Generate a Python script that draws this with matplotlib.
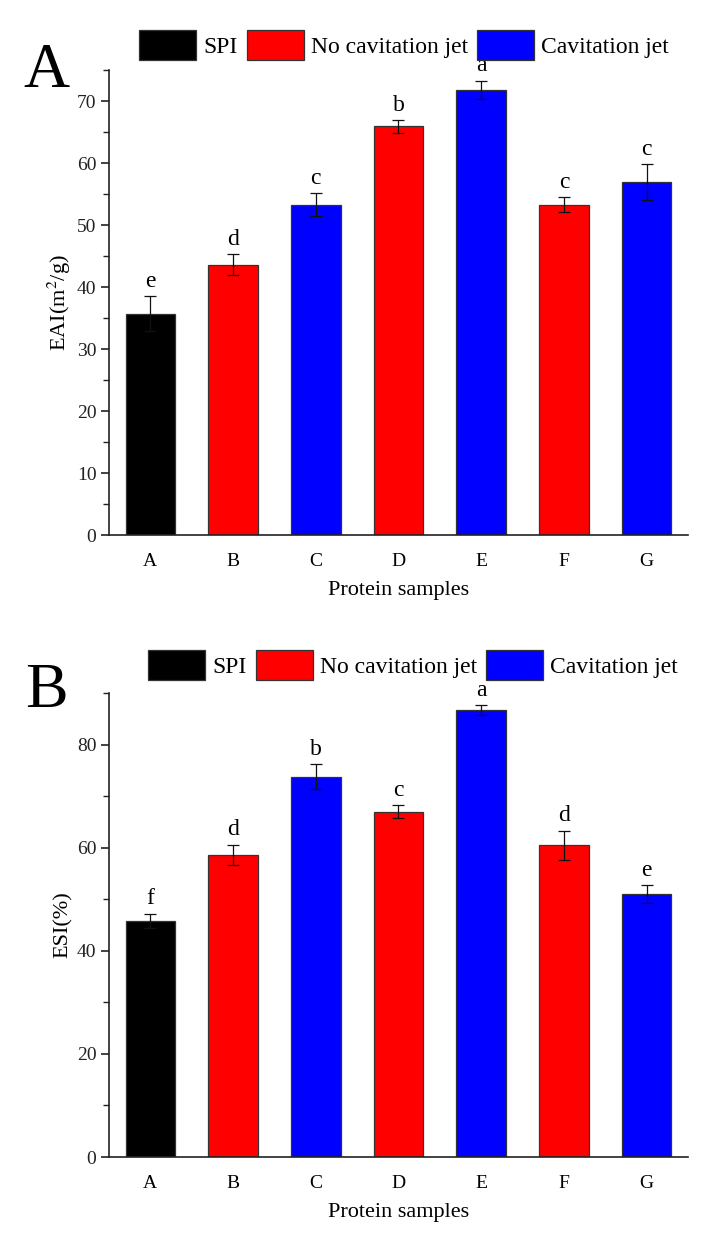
import matplotlib
matplotlib.use("Agg")
import matplotlib.pyplot as plt
from matplotlib.patches import Patch
from matplotlib.ticker import MultipleLocator

plt.rcParams['font.family'] = ['Liberation Serif', 'DejaVu Serif']
plt.rcParams['mathtext.fontset'] = 'stix'

samples = ['A', 'B', 'C', 'D', 'E', 'F', 'G']
groups = ['SPI', 'No cavitation jet', 'Cavitation jet', 'No cavitation jet',
          'Cavitation jet', 'No cavitation jet', 'Cavitation jet']
group_names = ['SPI', 'No cavitation jet', 'Cavitation jet']
group_colors = {'SPI': '#000000', 'No cavitation jet': '#ff0000', 'Cavitation jet': '#0000ff'}

eai = [35.7, 43.6, 53.3, 65.9, 71.8, 53.3, 56.9]
eai_err = [2.8, 1.7, 1.8, 1.0, 1.5, 1.25, 2.9]
eai_letters = ['e', 'd', 'c', 'b', 'a', 'c', 'c']

esi = [45.8, 58.6, 73.8, 67.0, 86.7, 60.5, 51.0]
esi_err = [1.4, 2.0, 2.4, 1.25, 0.9, 2.8, 1.7]
esi_letters = ['f', 'd', 'b', 'c', 'a', 'd', 'e']

W, H = 721, 1247
fig = plt.figure(figsize=(W / 100, H / 100), dpi=100)

def px_axes(left, top, right, bottom):
    return fig.add_axes([left / W, 1 - bottom / H, (right - left) / W, (bottom - top) / H])

def draw(ax, vals, errs, letters, ylabel, ymax, major, minor, panel, leg_y, leg_x, panel_xy):
    x = list(range(len(samples)))
    colors = [group_colors[g] for g in groups]
    ax.bar(x, vals, width=0.6, color=colors, edgecolor='#333333', linewidth=0.9, zorder=2)
    ax.errorbar(x, vals, yerr=errs, fmt='none', ecolor='#111111', elinewidth=0.9,
                capsize=4.5, capthick=0.9, zorder=3)
    for xi, v, e, l in zip(x, vals, errs, letters):
        ax.annotate(l, (xi, v + e), xytext=(0, 3), textcoords='offset points',
                    ha='center', va='bottom', fontsize=17)
    ax.set_xlim(-0.5, 6.5)
    ax.set_ylim(0, ymax)
    ax.set_xticks(x)
    ax.set_xticklabels(samples)
    ax.yaxis.set_major_locator(MultipleLocator(major))
    ax.yaxis.set_minor_locator(MultipleLocator(minor))
    for s in ['top', 'right']:
        ax.spines[s].set_visible(False)
    for s in ['left', 'bottom']:
        ax.spines[s].set_linewidth(1.2)
        ax.spines[s].set_color('#222222')
    ax.tick_params(axis='y', which='major', direction='out', length=6, width=1.2,
                   labelsize=14, pad=3, colors='#222222')
    ax.tick_params(axis='y', which='minor', direction='out', length=4, width=1.0, colors='#222222')
    ax.tick_params(axis='x', which='both', length=0, labelsize=14, pad=13)
    ax.set_ylabel(ylabel, fontsize=16)
    ax.yaxis.set_label_coords(-0.062, 0.5)
    ax.set_xlabel('Protein samples', fontsize=16)
    ax.xaxis.set_label_coords(0.5, -0.1)
    handles = [Patch(facecolor=group_colors[g], edgecolor='#333333', linewidth=0.9, label=g)
               for g in group_names]
    fig.legend(handles=handles, loc='center', bbox_to_anchor=(leg_x / W, 1 - leg_y / H),
               ncol=3, frameon=False, fontsize=17, handlelength=2.4, handleheight=1.6,
               handletextpad=0.3, columnspacing=0.4, borderpad=0)
    fig.text(panel_xy[0] / W, 1 - panel_xy[1] / H, panel, fontsize=46, ha='center', va='center')

ax1 = px_axes(109, 70, 688, 535)
draw(ax1, eai, eai_err, eai_letters, 'EAI(m$^{2}$/g)', 75, 10, 5, 'A', 45, 404, (46, 72))

ax2 = px_axes(109, 693, 688, 1157)
draw(ax2, esi, esi_err, esi_letters, 'ESI(%)', 90, 20, 10, 'B', 665, 413, (46, 692))

fig.savefig('out.png', dpi=100)
